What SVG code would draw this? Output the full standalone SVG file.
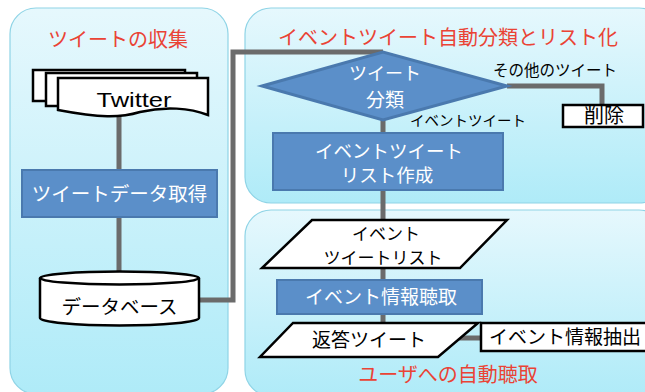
<svg xmlns="http://www.w3.org/2000/svg" width="645" height="392" viewBox="0 0 645 392">
<defs>
<linearGradient id="pg" x1="0" y1="0" x2="0" y2="1">
<stop offset="0" stop-color="#e6f8fd"/>
<stop offset="1" stop-color="#afebf8"/>
</linearGradient>
<style>
.panel{fill:url(#pg);stroke:#8fd4e6;stroke-width:1.2}
.title{font-family:"Noto Sans CJK JP","Noto Sans",sans-serif;fill:#ea4335;text-anchor:middle;font-size:20px}
.t{font-family:"Noto Sans CJK JP","Noto Sans",sans-serif;text-anchor:middle;fill:#000}
.w{fill:#fff}
.blue{fill:#5b8fc9;stroke:#4a79ae;stroke-width:2}
.wbox{fill:#fff;stroke:#000;stroke-width:2.5}
.conn{fill:none;stroke:#6b6b6b;stroke-width:5}
</style>
</defs>
<rect width="645" height="392" fill="#ffffff"/>
<g id="panels">
<rect class="panel" x="10" y="8" width="218" height="386" rx="26"/>
<rect class="panel" x="245" y="8" width="420" height="195" rx="26"/>
<rect class="panel" x="245" y="210" width="420" height="186" rx="26"/>
<text class="title" x="118" y="47">ツイートの収集</text>
<text class="title" x="448" y="45">イベントツイート自動分類とリスト化</text>
<text class="title" x="448" y="382">ユーザへの自動聴取</text>
</g>
<g id="connectors">
<path class="conn" d="M119,110 V272"/>
<path class="conn" d="M199,300 H233 V52 H383"/>
<path class="conn" d="M507,86 H602 V106"/>
<path class="conn" d="M383,120 V323"/>
<path class="conn" d="M455,338 H481"/>
<text class="t" x="555" y="76" font-size="15.5">その他のツイート</text>
<text class="t" x="468" y="126" font-size="14.5">イベントツイート</text>
</g>
<g id="twitter">
<rect class="wbox" x="33" y="70" width="152" height="31"/>
<rect class="wbox" x="46" y="73" width="151" height="33"/>
<path class="wbox" d="M58,78 H208 V115 C190,108 165,106 140,112 C120,118 100,118 58,110 Z"/>
<text x="134" y="107" font-family="'Liberation Sans',sans-serif" font-size="21" text-anchor="middle" textLength="75" lengthAdjust="spacingAndGlyphs">Twitter</text>
</g>
<g id="get">
<rect class="blue" x="22" y="170" width="195" height="47"/>
<text class="t w" x="119.5" y="201" font-size="19.5">ツイートデータ取得</text>
</g>
<g id="db">
<path class="wbox" d="M40,278 V318 A79.5,7.5 0 0 0 199,318 V278"/>
<ellipse class="wbox" cx="119.5" cy="278" rx="79.5" ry="6.5"/>
<text class="t" x="119.5" y="314" font-size="19.5">データベース</text>
</g>
<g id="classify">
<polygon points="262,86 383,52 507,86 383,120" fill="#5b8fc9" stroke="#4a79ae" stroke-width="3"/>
<text class="t w" x="385" y="80" font-size="18">ツイート</text>
<text class="t w" x="385" y="107" font-size="19">分類</text>
</g>
<g id="delete">
<rect class="wbox" x="563" y="105" width="80" height="22"/>
<text class="t" x="604" y="123" font-size="20">削除</text>
</g>
<g id="makelist">
<rect class="blue" x="273" y="133" width="230" height="57"/>
<text class="t w" x="389" y="158" font-size="18.5">イベントツイート</text>
<text class="t w" x="387" y="182" font-size="18.5">リスト作成</text>
</g>
<g id="eventlist">
<polygon class="wbox" points="312,220 507,220 460,268 262,268"/>
<text class="t" x="386" y="240" font-size="17">イベント</text>
<text class="t" x="383" y="264" font-size="17">ツイートリスト</text>
</g>
<g id="ask">
<rect class="blue" x="277" y="280" width="205" height="34"/>
<text class="t w" x="381" y="304" font-size="19">イベント情報聴取</text>
</g>
<g id="reply">
<polygon class="wbox" points="293,323 478,323 438,357 260,357"/>
<text class="t" x="369" y="347" font-size="19">返答ツイート</text>
</g>
<g id="extract">
<rect class="wbox" x="481" y="323" width="170" height="28"/>
<text class="t" x="565" y="344" font-size="19">イベント情報抽出</text>
</g>
</svg>
